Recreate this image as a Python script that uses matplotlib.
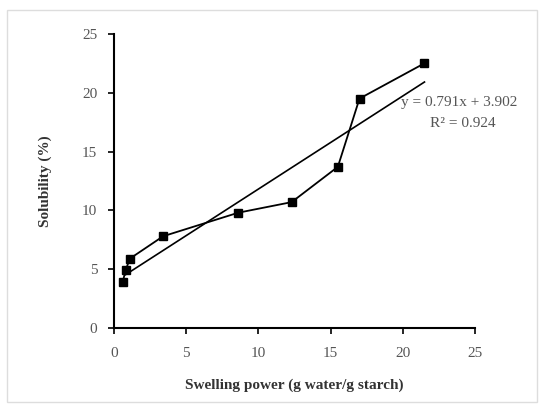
import matplotlib
matplotlib.use("Agg")
import matplotlib.pyplot as plt
from matplotlib.patches import Rectangle
import numpy as np

swelling = [0.6, 0.8, 1.1, 3.4, 8.6, 12.3, 15.5, 17.0, 21.5]
solubility = [3.9, 4.9, 5.9, 7.8, 9.8, 10.7, 13.7, 19.5, 22.5]
slope, intercept = 0.791, 3.902
fit_x = [0.8, 21.5]
ticks = [0, 5, 10, 15, 20, 25]

plt.rcParams['font.family'] = ['Liberation Serif', 'DejaVu Serif']

fig = plt.figure(figsize=(5.44, 4.08), dpi=100)
ax = fig.add_axes([0.2096, 0.196, 0.6636, 0.721])

ax.plot(swelling, solubility, color='black', lw=1.3, marker='s', ms=5.5,
        markerfacecolor='black', markeredgecolor='black')
fx = np.array(fit_x)
ax.plot(fx, slope * fx + intercept, color='black', lw=1.2)

ax.set_xlim(0, 25)
ax.set_ylim(0, 25)
ax.set_xticks(ticks)
ax.set_yticks(ticks)
for s in ['top', 'right']:
    ax.spines[s].set_visible(False)
for s in ['left', 'bottom']:
    ax.spines[s].set_linewidth(1.5)
ax.tick_params(direction='out', length=4, width=1.2, labelsize=11, labelcolor='#555555')
ax.tick_params(axis='x', pad=10)
ax.tick_params(axis='y', pad=8)

ax.set_xlabel('Swelling power (g water/g starch)', fontsize=11, fontweight='bold',
              color='#333333', labelpad=13)
ax.set_ylabel('Solubility (%)', fontsize=11, fontweight='bold', color='#333333', labelpad=22)

ax.text(19.9, 19.2, 'y = 0.791x + 3.902', fontsize=11, color='#555555', ha='left', va='center')
ax.text(21.9, 17.4, 'R² = 0.924', fontsize=11, color='#555555', ha='left', va='center')

fig.patches.append(Rectangle((0.012, 0.015), 0.976, 0.96, transform=fig.transFigure,
                             fill=False, edgecolor='#dddddd', lw=1))

fig.savefig('out.png', dpi=100)
